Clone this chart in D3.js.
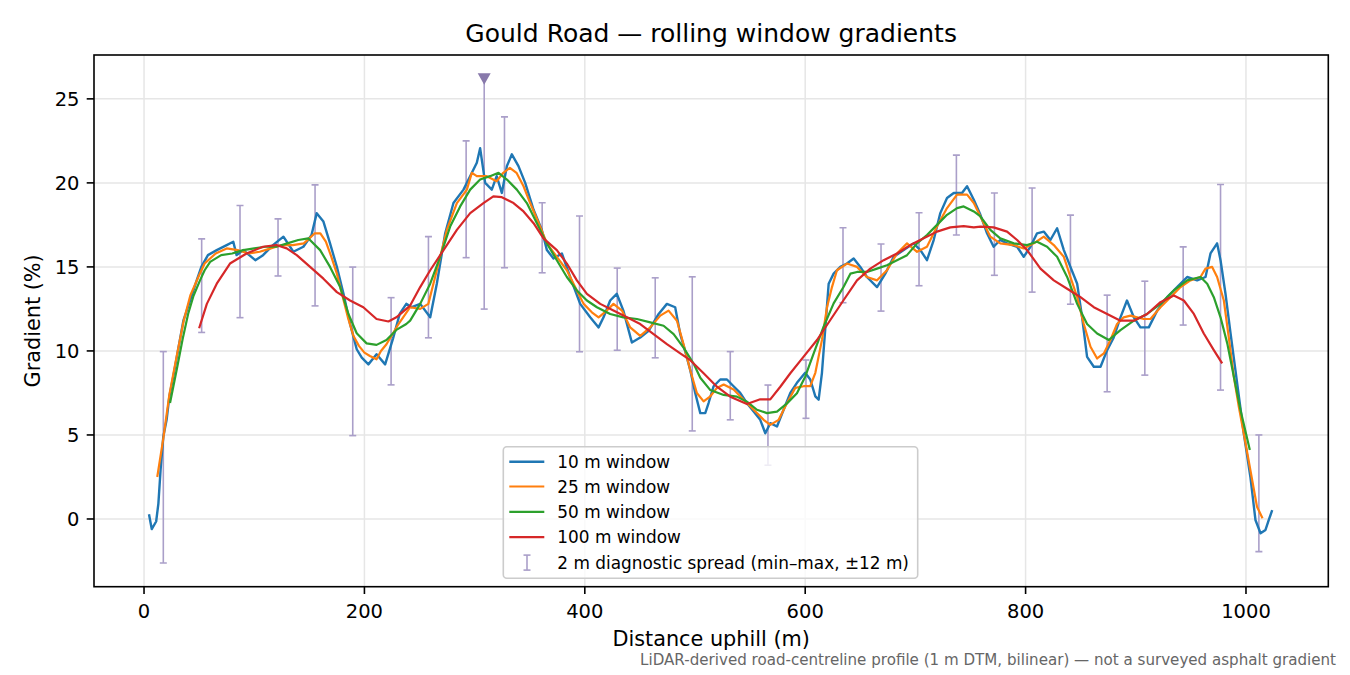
<!DOCTYPE html>
<html>
<head>
<meta charset="utf-8">
<script src="https://cdn.jsdelivr.net/npm/d3@7"></script>
<style>
  html, body { margin: 0; padding: 0; background: #fff; }
  svg { display: block; font-family: "DejaVu Sans", sans-serif; }
</style>
</head>
<body>
<svg id="chart" width="1350" height="675"></svg>
<script>
// ---------------- DATA ----------------
const xTicks = [0, 200, 400, 600, 800, 1000];
const yTicks = [0, 5, 10, 15, 20, 25];

const win10 = [[4.5,0.28],[7,-0.6],[11,-0.15],[13,0.9],[15,2.9],[17.5,4.9],[20.5,5.9],[23,7.3],[26.6,8.5],[31,10.1],[35.7,11.8],[41.8,13.0],[47.8,14.2],[52,15.0],[58,15.7],[66,16.0],[75,16.3],[81,16.5],[84,15.7],[90,16.0],[101,15.4],[108,15.7],[117,16.3],[126.5,16.8],[135.5,15.9],[144.6,16.2],[152,16.9],[156.7,18.2],[162.8,17.7],[168.8,16.4],[175,15.0],[181,13.4],[187,11.6],[193,10.1],[197.6,9.6],[203.6,9.2],[211,9.8],[218.8,9.2],[226,10.75],[232,12.2],[238,12.8],[243,12.6],[250.6,12.8],[259.7,12.0],[265.7,14.0],[273.3,17.0],[280.8,18.8],[289.9,19.6],[297.5,20.6],[302,21.2],[305,22.06],[309.6,20.0],[315.6,19.6],[320,20.4],[324.7,19.4],[329.3,21.0],[333.8,21.7],[339.8,21.0],[345.9,20.0],[353.5,18.4],[361,17.2],[365.6,16.0],[371.6,15.5],[379.2,15.8],[386.7,14.4],[395.8,12.8],[404.9,12.0],[412.5,11.4],[417,12.0],[423,13.0],[429,13.4],[435,12.4],[442.7,10.5],[450.3,10.8],[457.9,11.2],[467,12.2],[474.5,12.8],[482,12.6],[486.6,11.0],[491,10.0],[495.7,8.85],[500.2,7.5],[504.8,6.3],[509.3,6.3],[512.3,6.9],[516.9,7.9],[522.9,8.3],[529,8.3],[535,7.9],[541,7.5],[547,6.9],[553.2,6.4],[559.2,5.9],[563.8,5.1],[568.3,5.7],[574.4,5.5],[580.4,6.5],[586.5,7.5],[592.5,8.1],[600,8.7],[604.6,8.3],[609.2,7.3],[612.2,7.1],[615.2,8.7],[618.3,11.4],[621.3,14.0],[625.8,14.6],[631.9,15.0],[637.9,15.2],[644,15.5],[650,15.0],[656,14.4],[665.2,13.8],[672.7,14.6],[680.3,15.6],[689.4,16.0],[698.4,16.4],[704.5,16.0],[710.5,15.4],[716.6,16.6],[722.6,18.2],[728.7,19.1],[734.8,19.4],[742.3,19.4],[746.9,19.8],[753,19.0],[759,18.1],[765,17.0],[771,16.2],[777,16.6],[783.2,16.4],[792.3,16.2],[798.3,15.6],[804.4,16.2],[810.4,17.0],[816.5,17.1],[822.5,16.6],[828.6,17.3],[834.7,16.0],[840.7,15.0],[846.8,14.0],[851.3,12.0],[855.8,9.65],[861.9,9.06],[868,9.06],[874,10.05],[880,10.8],[886.1,12.0],[892,13.0],[898.2,12.0],[904.2,11.4],[911.8,11.4],[919.4,12.4],[928.5,13.2],[937.5,13.8],[946.6,14.4],[955.7,14.2],[963.3,14.4],[967.8,15.8],[973.8,16.4],[976.9,15.4],[981.4,13.4],[986,11.04],[992,8.07],[998,5.09],[1004,2.5],[1008.6,-0.06],[1013.2,-0.85],[1017.7,-0.65],[1020.7,-0.06],[1023.8,0.53]];

const win25 = [[12,2.5],[17.5,4.8],[23,7.4],[30,9.8],[36,11.8],[42,13.3],[50,14.5],[55,15.2],[65,15.8],[75,16.1],[85,16.0],[95,15.8],[105,15.9],[115,16.1],[125,16.3],[135,16.3],[145,16.4],[150,16.7],[155,17.0],[160,17.0],[165,16.5],[170,15.6],[175,14.6],[180,13.3],[185,12.0],[190,10.9],[195,10.3],[200,9.9],[205,9.7],[211,9.5],[215,10.0],[220,10.4],[230,11.5],[241.5,12.6],[250.6,12.5],[258,12.8],[265.7,14.8],[274.8,17.2],[283.9,18.8],[293,19.6],[297.5,20.6],[302,20.4],[311,20.4],[320,20.1],[326,20.6],[332,20.9],[338,20.6],[344.4,19.8],[350.4,18.8],[359.5,17.4],[365.6,16.4],[374.6,15.6],[383.7,14.8],[392.8,13.6],[398.9,12.8],[406.4,12.3],[412.5,12.0],[420,12.4],[426,12.8],[433.7,12.4],[441.2,11.4],[450.3,10.9],[459.4,11.4],[468.5,12.1],[476,12.4],[483.6,11.8],[489.6,10.4],[495.7,8.85],[501.7,7.5],[507.8,7.0],[513.9,7.3],[519.9,7.8],[526,8.0],[535,7.7],[544.1,7.1],[553.2,6.5],[562.3,5.9],[568.3,5.6],[575.9,5.9],[583.5,6.9],[591,7.8],[598.6,7.9],[604.6,7.9],[609.2,8.7],[615.2,10.65],[619.8,12.6],[624.3,13.8],[628.8,14.8],[637.9,15.2],[647,15.0],[656,14.4],[665.2,14.2],[674.2,14.8],[683.3,15.8],[692.4,16.4],[701.5,15.9],[710.5,16.2],[719.6,17.4],[728.7,18.5],[737.8,19.3],[746.9,19.3],[753,18.8],[759,18.0],[768,16.8],[777,16.4],[789.3,16.3],[798.3,16.1],[807.4,16.4],[816.5,16.8],[825.6,16.3],[834.7,15.6],[840.7,14.4],[846.8,13.2],[852.8,11.6],[858.9,10.25],[864.9,9.55],[871,9.85],[877,10.65],[883,11.6],[889,12.0],[895.2,12.1],[901.2,12.0],[907.3,11.9],[913.3,11.9],[922.4,12.6],[931.5,13.2],[940.6,13.8],[949.6,14.2],[958.7,14.4],[963.3,14.9],[969.3,15.0],[973.8,14.4],[979.9,13.0],[984.4,10.8],[989,8.46],[993.5,6.68],[998,5.09],[1004,2.9],[1010,0.73],[1015,0.04]];

const win50 = [[23.6,6.9],[30,9.0],[35,10.7],[40,12.2],[45,13.3],[50.8,14.2],[55,14.8],[60,15.3],[70,15.7],[80,15.8],[90,16.0],[100,16.1],[110,16.2],[120,16.2],[130,16.4],[140,16.6],[149,16.7],[159.8,16.0],[168.8,15.0],[178,13.8],[185.5,12.2],[193,11.05],[202,10.45],[211,10.36],[220,10.65],[229,11.25],[238,11.6],[241.5,11.8],[250.6,12.8],[259.7,14.0],[268.7,15.6],[277.8,17.4],[286.9,18.6],[296,19.6],[305,20.2],[314,20.4],[321.7,20.6],[329.3,20.2],[338.3,19.6],[347.4,18.8],[356.5,17.6],[365.6,16.4],[374.6,15.4],[383.7,14.4],[392.8,13.6],[401.9,13.0],[411,12.6],[423,12.2],[435,12.0],[447.3,11.9],[459.4,11.7],[471.5,11.5],[480.6,11.0],[489.6,10.2],[498.7,9.25],[504.8,8.4],[513.9,7.67],[526,7.38],[538,7.28],[547.1,6.98],[556.2,6.5],[565.3,6.3],[574.4,6.39],[583.5,6.88],[592.5,7.48],[600,8.47],[607.7,9.86],[616.7,11.44],[625.8,12.83],[634.9,13.82],[641,14.6],[647,14.7],[656,14.7],[665.2,14.9],[674.2,15.1],[683.3,15.4],[692.4,15.7],[701.5,16.4],[710.5,16.9],[719.6,17.5],[728.7,18.1],[737.8,18.5],[743.8,18.6],[753,18.3],[759,18.0],[768,17.2],[777,16.7],[789.3,16.4],[801.4,16.3],[810.4,16.5],[819.5,16.2],[828.6,15.6],[837.7,14.4],[846.8,12.8],[855.8,11.6],[864.9,11.04],[875.5,10.65],[886.1,11.24],[898.2,11.8],[910.3,12.2],[922.4,12.8],[934.5,13.6],[946.6,14.2],[958.7,14.4],[964.8,14.0],[970.8,13.2],[976.9,12.0],[983,10.45],[989,8.46],[995,6.48],[1003.5,4.1]];

const win100 = [[50,11.35],[57,12.8],[66,14.0],[78,15.2],[93,15.8],[108,16.2],[120,16.3],[129.5,16.1],[138.6,15.7],[150.7,15.0],[162.8,14.3],[175,13.5],[187,13.0],[199,12.6],[211,11.9],[221.8,11.75],[229,12.0],[241.5,12.7],[250.6,13.8],[259.7,14.8],[271.8,16.0],[283.9,17.2],[296,18.2],[308,18.8],[317,19.2],[324.7,19.15],[335.3,18.8],[344.4,18.3],[353.5,17.6],[362.5,16.7],[374.6,16.0],[383.7,15.2],[392.8,14.2],[401.9,13.4],[414,12.8],[426,12.4],[438.2,12.0],[450.3,11.6],[462.4,11.0],[474.5,10.4],[486.6,9.85],[495.7,9.45],[507.8,8.67],[519.9,7.87],[532,7.28],[547.1,6.84],[559.2,7.12],[568.3,7.12],[577.4,7.87],[586.5,8.67],[598.6,9.66],[610.7,10.65],[622.8,11.84],[634.9,13.03],[647,14.2],[659.1,14.9],[671.2,15.4],[683.3,15.8],[695.4,16.3],[707.5,16.7],[719.6,17.1],[731.7,17.35],[743.8,17.43],[753,17.35],[759,17.4],[771,17.35],[783.2,17.1],[792.3,16.6],[801.4,16.0],[813.5,14.9],[825.6,14.2],[837.7,13.7],[849.8,13.2],[861.9,12.6],[874,12.2],[886.1,11.8],[898.2,11.8],[910.3,12.2],[922.4,12.9],[934.5,13.3],[943.6,13.0],[952.7,12.2],[961.7,11.04],[970.8,10.05],[978.4,9.26]];

// 2 m diagnostic spread (min–max within ±12 m)
const spreadX  = [17.5,52.3,87.1,121.6,155.2,189.4,224.2,258.1,292.3,327.1,361.3,395.2,429.4,463.9,497.5,532,566.2,600.7,634.3,668.8,703.3,737.2,771.7,805.9,840.7,874,908.2,943,976.9,1011.7];
const spreadHi = [9.96,16.67,18.65,17.86,19.88,14.99,13.17,16.8,22.5,23.93,18.82,18.03,14.93,14.35,14.41,9.96,7.97,9.46,17.33,16.36,18.22,21.65,19.4,19.7,18.08,13.32,14.15,16.19,19.9,5.0];
const spreadLo = [-2.62,11.1,11.98,14.46,12.68,4.96,7.98,10.78,15.55,14.95,14.65,9.95,10.04,9.59,5.24,5.9,3.2,5.99,12.87,12.37,13.88,16.9,14.5,13.5,12.78,7.57,8.56,11.54,7.67,-1.94];
// steepest-point spread, capped by a marker
const peakSpread = { x: 308.7, lo: 12.49, hi: 26.2 };

const seriesNames  = ["10 m window", "25 m window", "50 m window", "100 m window"];
const seriesColors = ["#1f77b4", "#ff7f0e", "#2ca02c", "#d62728"];
const spreadLabel = "2 m diagnostic spread (min\u2013max, \u00b112 m)";

// ---------------- CHART ----------------
const svg = d3.select("#chart");
const L = 94, R = 1328.3, T = 55, B = 586.7;
const x = d3.scaleLinear().domain([-45.4, 1074.7]).range([L, R]);
const y = d3.scaleLinear().domain([-4.03, 27.61]).range([B, T]);

const gridColor = "#e6e6e6";
const barColor = "#aa9fc9";

svg.append("defs").append("clipPath").attr("id", "clip")
  .append("rect").attr("x", L).attr("y", T).attr("width", R - L).attr("height", B - T);

// grid
const grid = svg.append("g");
grid.selectAll(".gx").data(xTicks).join("line")
  .attr("x1", d => x(d)).attr("x2", d => x(d)).attr("y1", T).attr("y2", B)
  .attr("stroke", gridColor).attr("stroke-width", 1.5);
grid.selectAll(".gy").data(yTicks).join("line")
  .attr("x1", L).attr("x2", R).attr("y1", d => y(d)).attr("y2", d => y(d))
  .attr("stroke", gridColor).attr("stroke-width", 1.5);

const plot = svg.append("g").attr("clip-path", "url(#clip)");

// error bars
const bars = spreadX.map((d, i) => ({ x: d, lo: spreadLo[i], hi: spreadHi[i] }));
const eb = plot.append("g").attr("stroke", barColor).attr("stroke-width", 1.6).attr("fill", "none");
eb.selectAll(".v").data(bars).join("line")
  .attr("x1", d => x(d.x)).attr("x2", d => x(d.x))
  .attr("y1", d => y(d.lo)).attr("y2", d => y(d.hi));
eb.selectAll(".ct").data(bars).join("line")
  .attr("x1", d => x(d.x) - 3.5).attr("x2", d => x(d.x) + 3.5)
  .attr("y1", d => y(d.hi)).attr("y2", d => y(d.hi));
eb.selectAll(".cb").data(bars).join("line")
  .attr("x1", d => x(d.x) - 3.5).attr("x2", d => x(d.x) + 3.5)
  .attr("y1", d => y(d.lo)).attr("y2", d => y(d.lo));
// peak spread
eb.append("line")
  .attr("x1", x(peakSpread.x)).attr("x2", x(peakSpread.x))
  .attr("y1", y(peakSpread.lo)).attr("y2", y(peakSpread.hi));
eb.append("line")
  .attr("x1", x(peakSpread.x) - 3.5).attr("x2", x(peakSpread.x) + 3.5)
  .attr("y1", y(peakSpread.lo)).attr("y2", y(peakSpread.lo));
plot.append("path")
  .attr("transform", `translate(${x(peakSpread.x)},${y(peakSpread.hi)})`)
  .attr("d", "M-6.5,-5.5 L6.5,-5.5 L0,6 Z")
  .attr("fill", "#8879ab");

// lines
const line = d3.line().x(d => x(d[0])).y(d => y(d[1]));
const allSeries = [win10, win25, win50, win100];
const widths = [2.4, 2.2, 2.2, 2.2];
allSeries.forEach((s, i) => {
  plot.append("path").datum(s)
    .attr("d", line).attr("fill", "none")
    .attr("stroke", seriesColors[i]).attr("stroke-width", widths[i])
    .attr("stroke-linejoin", "round").attr("stroke-linecap", "butt");
});

// axes frame
svg.append("rect").attr("x", L).attr("y", T).attr("width", R - L).attr("height", B - T)
  .attr("fill", "none").attr("stroke", "#000").attr("stroke-width", 1.6);

// ticks
const tickFont = 19.5;
const xa = svg.append("g");
xa.selectAll("line").data(xTicks).join("line")
  .attr("x1", d => x(d)).attr("x2", d => x(d)).attr("y1", B).attr("y2", B + 7.3)
  .attr("stroke", "#000").attr("stroke-width", 1.6);
xa.selectAll("text").data(xTicks).join("text")
  .attr("x", d => x(d)).attr("y", 617.5).attr("text-anchor", "middle")
  .attr("font-size", tickFont).attr("fill", "#000").text(d => d);
const ya = svg.append("g");
ya.selectAll("line").data(yTicks).join("line")
  .attr("x1", L - 7.3).attr("x2", L).attr("y1", d => y(d)).attr("y2", d => y(d))
  .attr("stroke", "#000").attr("stroke-width", 1.6);
ya.selectAll("text").data(yTicks).join("text")
  .attr("x", 79.5).attr("y", d => y(d)).attr("dy", "0.36em").attr("text-anchor", "end")
  .attr("font-size", tickFont).attr("fill", "#000").text(d => d);

// labels
svg.append("text").attr("x", (L + R) / 2).attr("y", 646).attr("text-anchor", "middle")
  .attr("font-size", 20.8).text("Distance uphill (m)");
svg.append("text").attr("transform", `translate(40,${(T + B) / 2}) rotate(-90)`)
  .attr("text-anchor", "middle").attr("font-size", 20.8).text("Gradient (%)");
svg.append("text").attr("x", (L + R) / 2).attr("y", 42).attr("text-anchor", "middle")
  .attr("font-size", 25).text("Gould Road \u2014 rolling window gradients");
svg.append("text").attr("x", 1336).attr("y", 665).attr("text-anchor", "end")
  .attr("font-size", 15.1).attr("fill", "#666")
  .text("LiDAR-derived road-centreline profile (1 m DTM, bilinear) \u2014 not a surveyed asphalt gradient");

// legend
const lg = svg.append("g");
lg.append("rect").attr("x", 503.3).attr("y", 446.7).attr("width", 414.4).attr("height", 131.6)
  .attr("rx", 3.5).attr("fill", "#fff").attr("fill-opacity", 0.8)
  .attr("stroke", "#cccccc").attr("stroke-width", 1.6);
const rowY = [461.7, 486.5, 511.8, 537.2, 562.6];
const legendFont = 16.9;
seriesNames.forEach((n, i) => {
  lg.append("line").attr("x1", 509.3).attr("x2", 544.3).attr("y1", rowY[i]).attr("y2", rowY[i])
    .attr("stroke", seriesColors[i]).attr("stroke-width", widths[i]);
  lg.append("text").attr("x", 557.3).attr("y", rowY[i]).attr("dy", "0.36em")
    .attr("font-size", legendFont).text(n);
});
const ey = rowY[4];
lg.append("line").attr("x1", 527).attr("x2", 527).attr("y1", ey - 7.5).attr("y2", ey + 7.5)
  .attr("stroke", barColor).attr("stroke-width", 1.6);
lg.append("line").attr("x1", 523.5).attr("x2", 530.5).attr("y1", ey - 7.5).attr("y2", ey - 7.5)
  .attr("stroke", barColor).attr("stroke-width", 1.6);
lg.append("line").attr("x1", 523.5).attr("x2", 530.5).attr("y1", ey + 7.5).attr("y2", ey + 7.5)
  .attr("stroke", barColor).attr("stroke-width", 1.6);
lg.append("text").attr("x", 557.3).attr("y", ey).attr("dy", "0.36em")
  .attr("font-size", legendFont).text(spreadLabel);
</script>
</body>
</html>
